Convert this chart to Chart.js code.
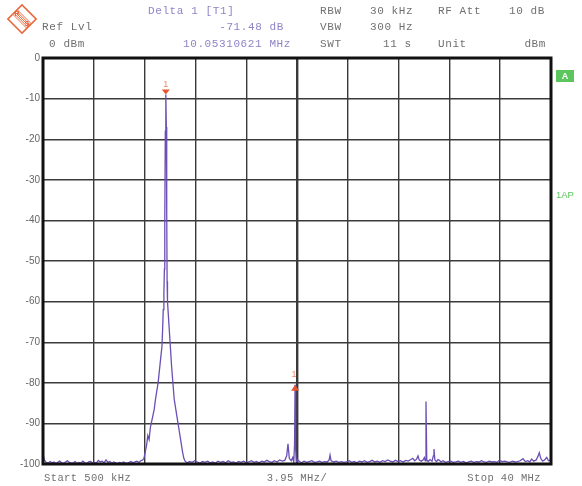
<!DOCTYPE html>
<html>
<head>
<meta charset="utf-8">
<script src="https://cdn.jsdelivr.net/npm/chart.js@4.4.1/dist/chart.umd.min.js"></script>
<style>
html,body{margin:0;padding:0;background:#fff;}
#wrap{width:582px;height:486px;position:relative;}
</style>
</head>
<body>
<div id="wrap"><canvas id="c" width="582" height="486"></canvas></div>
<script>
// ---- data ----
const freqMHz = [
 0.50,0.60,0.75,0.90,1.05,1.20,1.35,1.50,1.65,1.80,1.95,2.10,2.25,2.40,2.55,2.70,2.85,3.00,3.15,3.30,
 3.45,3.60,3.75,3.90,4.05,4.20,4.35,4.50,4.65,4.80,4.95,5.10,5.25,5.40,5.55,5.70,5.85,6.00,6.15,6.30,
 6.45,6.60,6.75,6.90,7.05,7.20,7.35,7.50,7.65,7.80,7.95,8.10,8.25,8.35,
 8.45,8.55,8.65,8.75,8.85,8.95,9.05,9.15,9.25,9.35,9.45,9.55,9.65,9.75,9.80,9.85,9.90,9.94,9.97,10.01,10.05,
 10.09,10.12,10.15,10.18,10.24,10.30,10.40,10.50,10.60,10.70,10.80,10.90,11.00,11.10,11.20,11.35,11.45,
 11.55,11.70,11.90,12.10,12.30,12.50,12.70,12.90,13.10,13.30,13.50,13.70,13.90,14.10,14.30,14.50,14.70,14.90,
 15.10,15.30,15.50,15.70,15.90,16.10,16.30,16.50,16.70,16.90,17.10,17.30,17.50,17.70,17.90,18.10,18.30,18.50,
 18.70,18.90,19.10,19.30,19.45,19.55,19.65,19.80,19.92,20.00,20.06,20.10,20.14,20.20,20.30,20.45,20.60,20.80,
 21.00,21.20,21.40,21.60,21.80,22.00,22.20,22.40,22.60,22.75,22.82,22.90,23.10,23.30,23.50,23.70,23.90,24.10,
 24.30,24.50,24.70,24.90,25.10,25.30,25.50,25.70,25.90,26.10,26.30,26.50,26.70,26.90,27.10,27.30,27.50,27.70,
 27.90,28.10,28.30,28.50,28.70,28.90,29.10,29.25,29.40,29.55,29.66,29.75,29.90,30.05,30.15,30.22,30.28,30.34,
 30.45,30.60,30.75,30.85,30.90,30.97,31.10,31.22,31.30,31.45,31.60,31.80,32.00,32.20,32.40,32.60,32.80,33.00,
 33.20,33.40,33.60,33.80,34.00,34.20,34.40,34.60,34.80,35.00,35.20,35.40,35.60,35.80,36.00,36.20,36.40,36.60,
 36.80,37.00,37.20,37.40,37.60,37.82,38.00,38.20,38.35,38.50,38.65,38.85,39.00,39.09,39.20,39.35,39.50,39.67,
 39.80,40.00
];
const levelDbm = [
 -97.5,-99.0,-99.6,-99.8,-99.4,-99.7,-99.5,-99.9,-99.6,-99.3,-99.7,-99.8,-99.5,-99.2,-99.6,-99.8,-99.7,-99.4,-99.9,-99.6,
 -99.8,-99.3,-99.7,-99.9,-99.5,-99.4,-99.7,-99.6,-99.8,-99.1,-99.5,-99.3,-99.7,-99.0,-99.6,-99.4,-99.8,-99.5,-99.7,-99.9,
 -99.6,-99.8,-99.5,-99.7,-99.9,-99.6,-99.4,-99.7,-99.5,-99.3,-99.6,-99.2,-99.0,-98.6,
 -97.0,-95.5,-93.0,-94.0,-91.0,-89.5,-88.0,-86.5,-84.0,-82.0,-80.0,-77.0,-74.0,-71.0,-67.0,-62.0,-58.0,-52.0,-40.0,-18.0,-9.0,
 -17.0,-38.0,-55.0,-60.0,-63.0,-66.0,-71.0,-76.0,-80.0,-84.0,-86.0,-88.0,-90.0,-92.0,-94.0,-97.0,-98.6,
 -99.3,-99.7,-99.4,-99.6,-99.2,-99.5,-99.8,-99.4,-99.6,-99.3,-99.7,-99.5,-99.8,-99.3,-99.6,-99.4,-99.7,-99.2,
 -99.6,-99.5,-99.8,-99.4,-99.6,-99.3,-99.7,-99.5,-99.2,-99.6,-99.4,-99.7,-99.3,-99.5,-99.1,-99.4,-99.6,-99.2,
 -99.5,-99.0,-99.3,-99.1,-98.0,-95.0,-98.6,-99.2,-98.4,-99.6,-95.0,-80.5,-96.0,-99.8,-99.0,-99.4,-99.7,-99.3,
 -99.6,-99.4,-99.2,-99.6,-99.5,-99.3,-99.6,-99.4,-99.5,-99.0,-97.8,-99.2,-99.5,-99.3,-99.6,-99.4,-99.6,-99.5,
 -99.2,-99.6,-99.4,-99.7,-99.3,-99.5,-99.2,-99.6,-99.4,-99.1,-99.5,-99.3,-99.6,-99.2,-99.4,-99.0,-99.3,-99.5,
 -99.1,-99.4,-99.2,-99.5,-99.1,-99.3,-98.9,-98.6,-99.2,-98.8,-98.0,-99.0,-99.3,-99.0,-98.4,-99.2,-84.6,-99.0,
 -99.4,-98.9,-99.3,-98.0,-96.3,-99.0,-99.4,-98.9,-99.0,-99.5,-99.2,-99.6,-99.4,-99.3,-99.6,-99.5,-99.3,-99.6,
 -99.4,-99.7,-99.5,-99.3,-99.6,-99.4,-99.5,-99.2,-99.5,-99.6,-99.3,-99.5,-99.4,-99.6,-99.1,-99.4,-99.3,-99.5,
 -99.6,-99.3,-99.5,-99.4,-99.2,-98.7,-99.4,-99.2,-99.5,-98.8,-99.3,-99.0,-98.0,-97.2,-98.6,-99.3,-99.0,-98.4,
 -99.2,-99.0
];
const xGridMHz = [0.5, 4.45, 8.4, 12.35, 16.3, 20.25, 24.2, 28.15, 32.1, 36.05, 40.0];
const yTicks = [0,-10,-20,-30,-40,-50,-60,-70,-80,-90,-100];
const markerFreq = [10.05, 20.10];
const markerLevel = [-9.0, -80.48];
const headerLeft = ["Delta 1 [T1]", "-71.48 dB", "10.05310621 MHz"];
const footer = ["Start 500 kHz", "3.95 MHz/", "Stop 40 MHz"];

const points = freqMHz.map((f,i)=>({x:f, y:levelDbm[i]}));

const MONO = '"Liberation Mono","DejaVu Sans Mono",monospace';

const decor = {
  id:'decor',
  afterDraw(chart){
    const ctx = chart.ctx, a = chart.chartArea;
    const xs = chart.scales.x, ys = chart.scales.y;
    ctx.save();
    // frame
    ctx.strokeStyle = '#111';
    ctx.lineWidth = 3;
    ctx.strokeRect(a.left, a.top, a.right-a.left, a.bottom-a.top);

    // markers
    const mcol = '#e4572e';
    let mx = xs.getPixelForValue(markerFreq[0]), my = ys.getPixelForValue(markerLevel[0]);
    ctx.fillStyle = mcol;
    ctx.beginPath(); ctx.moveTo(mx-4, my-5); ctx.lineTo(mx+4, my-5); ctx.lineTo(mx, my); ctx.closePath(); ctx.fill();
    ctx.font = '9px "Liberation Sans",sans-serif'; ctx.textAlign='center'; ctx.textBaseline='alphabetic';
    ctx.fillStyle = '#ee8a66';
    ctx.fillText('1', mx, my-8);
    mx = xs.getPixelForValue(markerFreq[1]); my = ys.getPixelForValue(markerLevel[1]);
    ctx.fillStyle = mcol;
    ctx.beginPath(); ctx.moveTo(mx-4, my+6); ctx.lineTo(mx+4, my+6); ctx.lineTo(mx, my); ctx.closePath(); ctx.fill();
    ctx.fillStyle = '#ee8a66';
    ctx.fillText('1', mx-1, my-8);

    // header texts
    ctx.textBaseline = 'middle';
    ctx.font = '11px ' + MONO;
    ctx.letterSpacing = '0.6px';
    ctx.textAlign = 'left';
    ctx.fillStyle = '#8d85c8';
    ctx.fillText(headerLeft[0], 148, 11);
    ctx.textAlign = 'right';
    ctx.fillText(headerLeft[1], 284, 27);
    ctx.fillText(headerLeft[2], 291, 44);
    ctx.fillStyle = '#707070';
    ctx.textAlign = 'left';
    ctx.fillText('Ref Lvl', 42, 27);
    ctx.fillText('0 dBm', 49, 44);
    ctx.fillText('RBW', 320, 11);
    ctx.fillText('30 kHz', 370, 11);
    ctx.fillText('RF Att', 438, 11);
    ctx.fillText('VBW', 320, 27);
    ctx.fillText('300 Hz', 370, 27);
    ctx.fillText('SWT', 320, 44);
    ctx.fillText('11 s', 383, 44);
    ctx.fillText('Unit', 438, 44);
    ctx.textAlign = 'right';
    ctx.fillText('10 dB', 545, 11);
    ctx.fillText('dBm', 546, 44);

    // footer
    ctx.font = '10.5px ' + MONO;
    ctx.letterSpacing = '0.4px';
    ctx.fillStyle = '#707070';
    ctx.textAlign = 'left';
    ctx.fillText(footer[0], 44, 478);
    ctx.textAlign = 'center';
    ctx.fillText(footer[1], 297, 478);
    ctx.textAlign = 'right';
    ctx.fillText(footer[2], 541, 478);
    ctx.letterSpacing = '0px';

    // right side indicators
    ctx.fillStyle = '#5dc55d';
    ctx.fillRect(556, 70, 18, 12);
    ctx.fillStyle = '#fff';
    ctx.font = 'bold 9px "Liberation Sans",sans-serif';
    ctx.textAlign = 'center';
    ctx.fillText('A', 565, 76.5);
    ctx.fillStyle = '#5dc55d';
    ctx.font = '9.5px "Liberation Sans",sans-serif';
    ctx.textAlign = 'left';
    ctx.fillText('1AP', 556, 195);

    // R&S logo
    ctx.translate(22, 19);
    ctx.rotate(Math.PI/4);
    ctx.strokeStyle = '#e8693f';
    ctx.lineWidth = 1.6;
    ctx.strokeRect(-10, -10, 20, 20);
    ctx.lineWidth = 0.9;
    for (let k=-2;k<=2;k++){
      ctx.beginPath(); ctx.moveTo(-10, k*1.6); ctx.lineTo(10, k*1.6); ctx.stroke();
    }
    ctx.rotate(-Math.PI/4);
    ctx.fillStyle = '#e8693f';
    ctx.font = 'bold 7px "Liberation Sans",sans-serif';
    ctx.textAlign='center'; ctx.textBaseline='middle';
    ctx.fillText('R', -5, -5);
    ctx.fillText('S', 5, 5);
    ctx.restore();
  }
};

new Chart(document.getElementById('c'), {
  type:'line',
  data:{ datasets:[{
    data: points,
    borderColor:'#6b4fb3',
    borderWidth:1.3,
    pointRadius:0,
    tension:0,
    fill:false
  }]},
  options:{
    responsive:false,
    animation:false,
    devicePixelRatio:1,
    layout:{padding:{top:58, right:31, left:0, bottom:0}},
    plugins:{legend:{display:false}, tooltip:{enabled:false}},
    scales:{
      x:{
        type:'linear', min:0.5, max:40,
        afterBuildTicks(s){ s.ticks = xGridMHz.map(v=>({value:v})); },
        afterFit(s){ s.height = 22; },
        ticks:{display:false},
        border:{display:false},
        grid:{color:'#3a3a3a', lineWidth:(c)=> (c.index===5 ? 2.4 : 1.4), drawTicks:false}
      },
      y:{
        type:'linear', min:-100, max:0,
        afterBuildTicks(s){ s.ticks = yTicks.map(v=>({value:v})); },
        afterFit(s){ s.width = 43; },
        border:{display:false},
        grid:{color:'#3a3a3a', lineWidth:1.4, drawTicks:false},
        ticks:{color:'#666', padding:3, font:{family:'"Liberation Sans",sans-serif', size:10}}
      }
    }
  },
  plugins:[decor]
});
</script>
</body>
</html>
